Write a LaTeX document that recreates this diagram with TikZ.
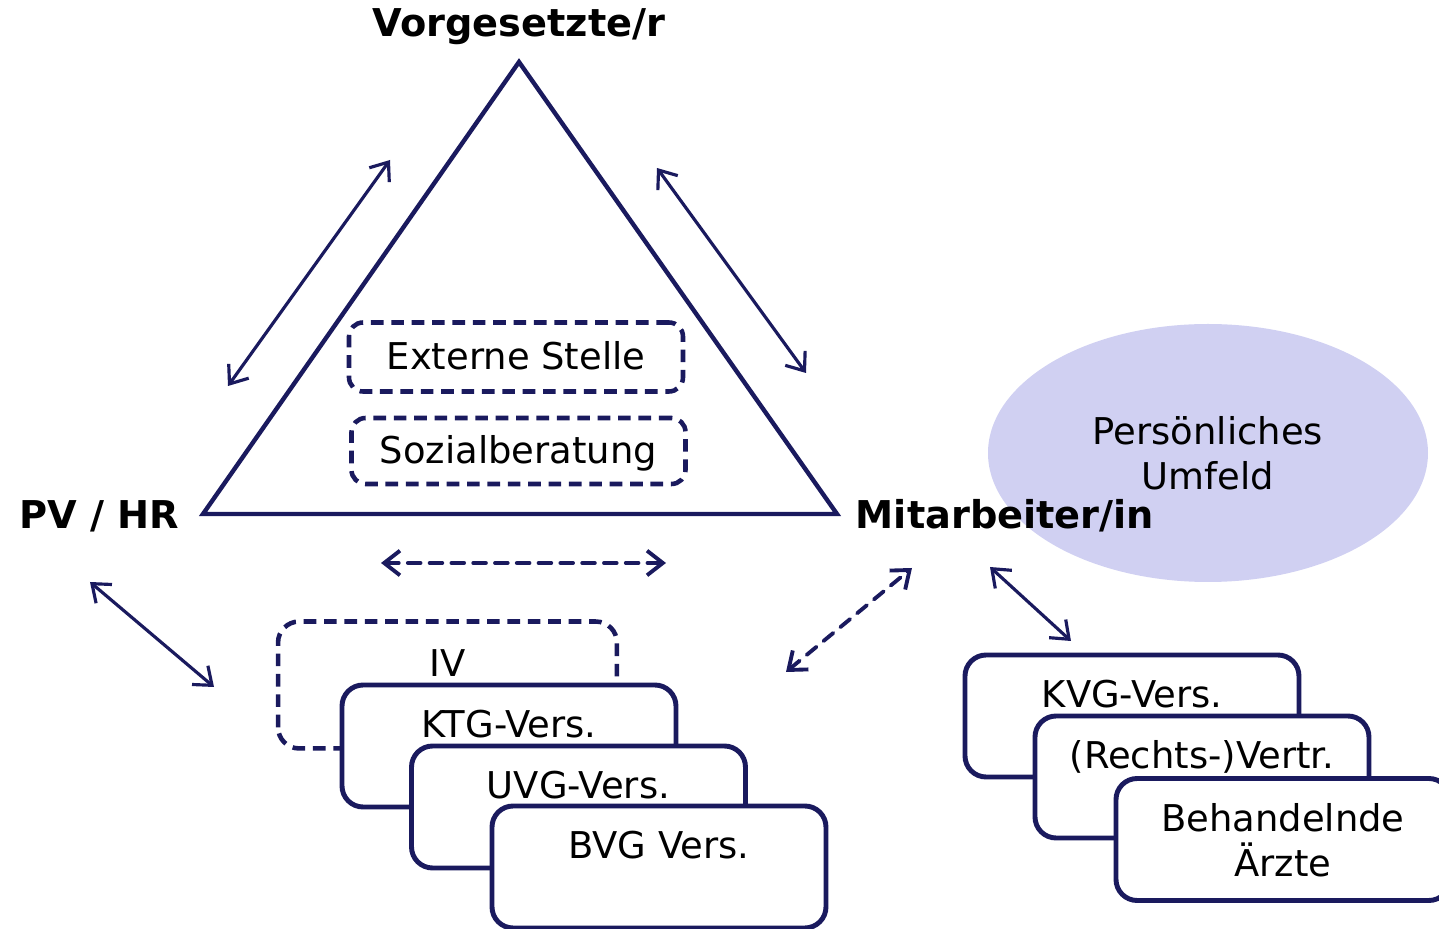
\documentclass[tikz,border=0pt]{standalone}
\usepackage{fontspec}
\setmainfont{DejaVu Sans}
\usepackage{tikz}
\usetikzlibrary{arrows.meta,shapes.geometric}
\definecolor{navy}{RGB}{26,26,94}
\definecolor{lavender}{RGB}{208,208,242}

\begin{document}
\begin{tikzpicture}[every node/.style={font=\fontsize{10.5}{12.8}\selectfont}]
	\tikzstyle{role}=[font=\fontsize{10.9}{13}\selectfont\bfseries]
	\tikzstyle{dbox}=[draw=navy,line width=1.3pt,dash pattern=on 3.6pt off 2.2pt,rounded corners=4pt,minimum width=3.34cm,text height=1.5ex,text depth=.25ex]
	\tikzstyle{vbox}=[draw=navy,fill=white,line width=1.4pt,rounded corners=6pt,minimum width=3.34cm,inner sep=0.1cm,text height=0.43cm,text depth=0.59cm,align=center]
	\tikzstyle{link}=[{Straight Barb[length=4.5pt,width=7pt]}-{Straight Barb[length=4.5pt,width=7pt]},draw=navy,line width=0.9pt,line join=round,line cap=round]
	\path[use as bounding box] (0,0) rectangle (14.39,9.29);
	\clip (0,0) rectangle (14.39,9.29);
	% persoenliches Umfeld
	\node[ellipse,fill=lavender,minimum width=4.4cm,minimum height=2.58cm,align=center] (pu) at (12.08,4.76) {Pers\"onliches\\Umfeld};
	% Dreieck
	\coordinate (t1) at (5.19,8.67);
	\coordinate (t2) at (2.03,4.15);
	\coordinate (t3) at (8.37,4.15);
	\draw[navy,line width=1.25pt] (t1) -- (t2) -- (t3) -- cycle;
	\node[role] (vg) at (5.19,9.02) {Vorgesetzte/r};
	\node[role] (pv) at (0.99,4.13) {PV / HR};
	\node[role] (ma) at (10.05,4.13) {Mitarbeiter/in};
	\node[dbox,minimum height=0.69cm] (es) at (5.16,5.72) {Externe Stelle};
	\node[dbox,minimum height=0.66cm] (sb) at (5.185,4.78) {Sozialberatung};
	% Pfeile
	\coordinate (a1) at (2.28,5.43);
	\coordinate (a2) at (3.90,7.69);
	\coordinate (a3) at (6.57,7.61);
	\coordinate (a4) at (8.06,5.56);
	\coordinate (a5) at (3.81,3.66);
	\coordinate (a6) at (6.66,3.66);
	\coordinate (a7) at (0.90,3.47);
	\coordinate (a8) at (2.14,2.42);
	\coordinate (a9) at (7.86,2.57);
	\coordinate (a10) at (9.12,3.61);
	\coordinate (a11) at (9.90,3.62);
	\coordinate (a12) at (10.71,2.88);
	\draw[link] (a1) -- (a2);
	\draw[link] (a3) -- (a4);
	\draw[link,line width=1.1pt,dash pattern=on 3.6pt off 2.6pt] (a5) -- (a6);
	\draw[link] (a7) -- (a8);
	\draw[link,line width=1.1pt,dash pattern=on 3.6pt off 2.6pt] (a9) -- (a10);
	\draw[link] (a11) -- (a12);
	% Versicherungen
	\node[vbox,draw=none,fill=none,minimum height=1.22cm] (iv) at (4.475,2.44) {IV};
	\draw[navy,line width=1.3pt,dash pattern=on 3.6pt off 2.2pt,rounded corners=6pt] (iv.south west) rectangle (iv.north east);
	\node[vbox,minimum height=1.22cm] (ktg) at (5.09,1.83) {KTG-Vers.};
	\node[vbox,minimum height=1.22cm] (uvg) at (5.785,1.22) {UVG-Vers.};
	\node[vbox,minimum height=1.22cm] (bvg) at (6.59,0.62) {BVG Vers.};
	\node[vbox,minimum height=1.22cm] (kvg) at (11.32,2.13) {KVG-Vers.};
	\node[vbox,minimum height=1.22cm] (rv) at (12.02,1.52) {(Rechts-)Vertr.};
	\node[vbox,minimum height=1.22cm,text height=0.88cm,text depth=0.14cm] (ae) at (12.83,0.895) {Behandelnde\\\"Arzte};
\end{tikzpicture}
\end{document}
